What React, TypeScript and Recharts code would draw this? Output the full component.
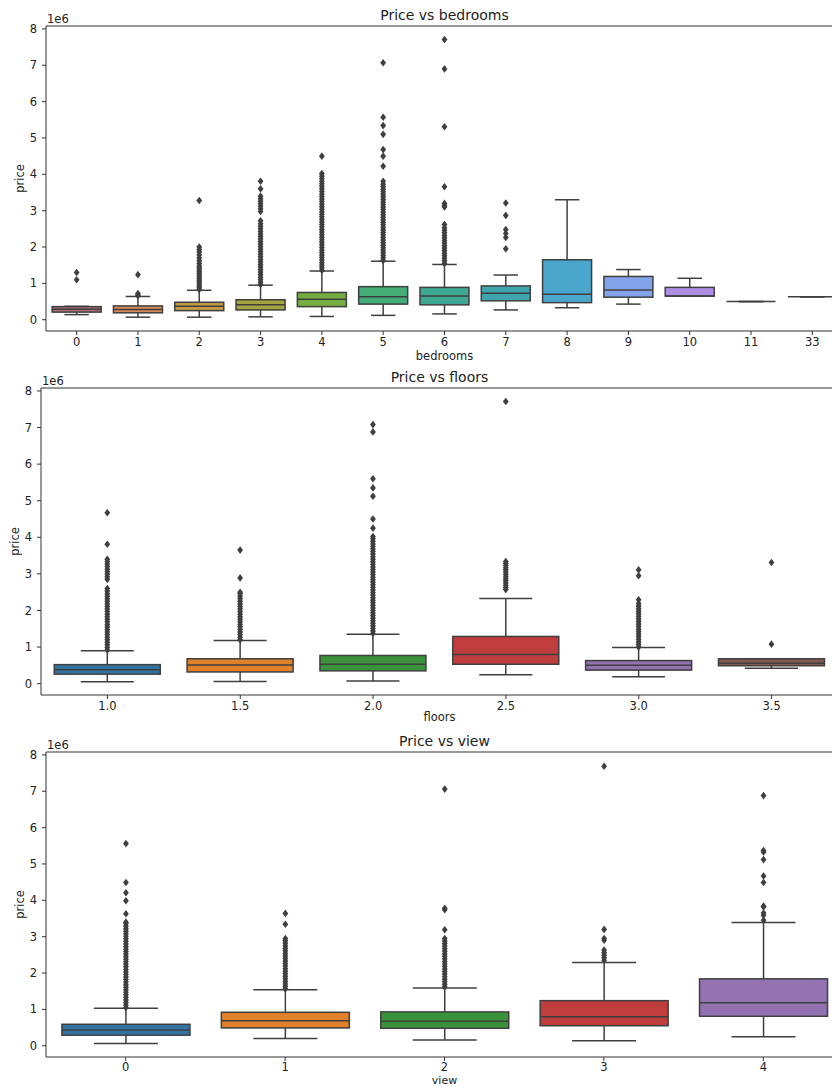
import { ComposedChart, Bar, XAxis, YAxis, ReferenceLine } from 'recharts';

const FONT = '"DejaVu Sans", sans-serif';
const LINE = '#3f3f3f';
const AXIS = '#333333';
const TEXT = '#222222';
const PLOT_W = 797;
const Y_DOMAIN: [number, number] = [-0.31, 8.08];

// price values below are in units of 1e6

// ---- Price vs bedrooms ----
const bedroomCats = ['0', '1', '2', '3', '4', '5', '6', '7', '8', '9', '10', '11', '33'];
const bedroomLow = [0.14, 0.07, 0.07, 0.08, 0.09, 0.12, 0.16, 0.27, 0.33, 0.43, 0.65, 0.5, 0.63];
const bedroomQ1 = [0.21, 0.19, 0.25, 0.27, 0.36, 0.43, 0.41, 0.52, 0.47, 0.62, 0.65, 0.5, 0.63];
const bedroomMed = [0.29, 0.28, 0.37, 0.41, 0.56, 0.63, 0.65, 0.73, 0.7, 0.82, 0.65, 0.5, 0.63];
const bedroomQ3 = [0.36, 0.38, 0.48, 0.55, 0.75, 0.91, 0.89, 0.93, 1.65, 1.19, 0.89, 0.5, 0.63];
const bedroomHigh = [0.37, 0.64, 0.81, 0.95, 1.34, 1.61, 1.52, 1.23, 3.3, 1.38, 1.14, 0.5, 0.63];
const bedroomOutliers: number[][] = [
  [1.1, 1.3],
  [0.66, 0.69, 0.72, 1.24],
  [0.83, 0.88, 0.93, 0.98, 1.03, 1.08, 1.13, 1.18, 1.23, 1.28, 1.33, 1.38, 1.43, 1.48, 1.55, 1.62, 1.7, 1.78,
    1.86, 1.93, 2.0, 3.28],
  [0.97, 1.03, 1.1, 1.17, 1.24, 1.31, 1.38, 1.45, 1.52, 1.59, 1.66, 1.73, 1.8, 1.87, 1.94, 2.01, 2.08, 2.15,
    2.22, 2.29, 2.36, 2.43, 2.5, 2.57, 2.64, 2.72, 2.98, 3.05, 3.12, 3.19, 3.26, 3.33, 3.4, 3.6, 3.81],
  [1.36, 1.43, 1.5, 1.57, 1.64, 1.71, 1.78, 1.85, 1.92, 1.99, 2.06, 2.13, 2.2, 2.27, 2.34, 2.41, 2.48, 2.55,
    2.62, 2.69, 2.76, 2.83, 2.9, 2.97, 3.04, 3.11, 3.18, 3.25, 3.32, 3.39, 3.46, 3.53, 3.6, 3.67, 3.74, 3.81,
    3.88, 3.95, 4.02, 4.5],
  [1.63, 1.7, 1.77, 1.84, 1.91, 1.98, 2.05, 2.12, 2.19, 2.26, 2.33, 2.4, 2.47, 2.54, 2.61, 2.68, 2.75, 2.82,
    2.89, 2.96, 3.03, 3.1, 3.17, 3.24, 3.31, 3.38, 3.45, 3.52, 3.59, 3.66, 3.73, 3.81, 4.22, 4.5, 4.68, 5.1,
    5.34, 5.57, 7.07],
  [1.55, 1.62, 1.69, 1.76, 1.83, 1.9, 1.97, 2.04, 2.11, 2.18, 2.25, 2.32, 2.39, 2.46, 2.53, 2.62, 3.1, 3.15,
    3.2, 3.66, 5.31, 6.9, 7.71],
  [1.95, 2.26, 2.37, 2.48, 2.87, 3.21],
  [], [], [], [], [],
];

// ---- Price vs floors ----
const floorCats = ['1.0', '1.5', '2.0', '2.5', '3.0', '3.5'];
const floorLow = [0.05, 0.06, 0.07, 0.24, 0.19, 0.42];
const floorQ1 = [0.26, 0.32, 0.35, 0.53, 0.37, 0.49];
const floorMed = [0.38, 0.51, 0.53, 0.8, 0.5, 0.56];
const floorQ3 = [0.52, 0.68, 0.77, 1.29, 0.63, 0.68];
const floorHigh = [0.9, 1.18, 1.35, 2.33, 0.99, 0.68];
const floorOutliers: number[][] = [
  [0.92, 0.99, 1.06, 1.13, 1.2, 1.27, 1.34, 1.41, 1.48, 1.55, 1.62, 1.69, 1.76, 1.83, 1.9, 1.97, 2.04, 2.11,
    2.18, 2.25, 2.32, 2.39, 2.46, 2.53, 2.6, 2.85, 2.92, 2.99, 3.06, 3.13, 3.2, 3.27, 3.34, 3.4, 3.81, 4.67],
  [1.2, 1.27, 1.34, 1.41, 1.48, 1.55, 1.62, 1.69, 1.76, 1.83, 1.9, 1.97, 2.04, 2.11, 2.18, 2.25, 2.32, 2.39,
    2.46, 2.5, 2.89, 3.65],
  [1.37, 1.44, 1.51, 1.58, 1.65, 1.72, 1.79, 1.86, 1.93, 2.0, 2.07, 2.14, 2.21, 2.28, 2.35, 2.42, 2.49, 2.56,
    2.63, 2.7, 2.77, 2.84, 2.91, 2.98, 3.05, 3.12, 3.19, 3.26, 3.33, 3.4, 3.47, 3.54, 3.61, 3.68, 3.75, 3.82,
    3.89, 3.96, 4.02, 4.25, 4.5, 5.12, 5.35, 5.6, 6.88, 7.08],
  [2.57, 2.63, 2.69, 2.75, 2.81, 2.87, 2.93, 2.99, 3.05, 3.11, 3.17, 3.23, 3.29, 3.34, 7.71],
  [1.0, 1.07, 1.14, 1.21, 1.28, 1.35, 1.42, 1.49, 1.56, 1.63, 1.7, 1.77, 1.84, 1.91, 1.98, 2.05, 2.12, 2.19,
    2.29, 2.95, 3.11],
  [1.08, 3.31],
];

// ---- Price vs view ----
const viewCats = ['0', '1', '2', '3', '4'];
const viewLow = [0.06, 0.2, 0.16, 0.14, 0.25];
const viewQ1 = [0.29, 0.49, 0.48, 0.55, 0.81];
const viewMed = [0.43, 0.69, 0.67, 0.8, 1.18];
const viewQ3 = [0.59, 0.92, 0.93, 1.24, 1.84];
const viewHigh = [1.03, 1.54, 1.59, 2.29, 3.39];
const viewOutliers: number[][] = [
  [1.05, 1.12, 1.19, 1.26, 1.33, 1.4, 1.47, 1.54, 1.61, 1.68, 1.75, 1.82, 1.89, 1.96, 2.03, 2.1, 2.17, 2.24,
    2.31, 2.38, 2.45, 2.52, 2.59, 2.66, 2.73, 2.8, 2.87, 2.94, 3.01, 3.08, 3.15, 3.22, 3.29, 3.36, 3.4, 3.63,
    3.99, 4.21, 4.49, 5.56],
  [1.56, 1.63, 1.7, 1.77, 1.84, 1.91, 1.98, 2.05, 2.12, 2.19, 2.26, 2.33, 2.4, 2.47, 2.54, 2.61, 2.68, 2.75,
    2.82, 2.89, 2.95, 3.34, 3.64],
  [1.62, 1.69, 1.76, 1.83, 1.9, 1.97, 2.04, 2.11, 2.18, 2.25, 2.32, 2.39, 2.46, 2.53, 2.6, 2.67, 2.74, 2.81,
    2.88, 2.95, 3.19, 3.74, 3.78, 7.06],
  [2.35, 2.42, 2.49, 2.56, 2.63, 2.9, 2.95, 3.2, 7.69],
  [3.45, 3.59, 3.65, 3.82, 3.84, 4.49, 4.67, 5.12, 5.33, 5.37, 6.88],
];

const yTicks = [0, 1, 2, 3, 4, 5, 6, 7, 8];

// seaborn-like desaturated palettes
const huslPalette = ['#b07078', '#d98a58', '#c49c45', '#a3a43e', '#74ad42', '#44ad77', '#3fa893', '#3fa6b0',
  '#4aa6cc', '#84a3ea', '#ae8fe3', '#d880d8', '#e57fae'];
const tabPalette = ['#3274a1', '#e1812c', '#3a923a', '#c03d3e', '#9372b2', '#845b53'];

type BoxRow = {
  cat: string;
  low: number;
  q1: number;
  med: number;
  q3: number;
  high: number;
  outliers: number[];
  top: number;
};

const buildRows = (
  cats: string[], low: number[], q1: number[], med: number[], q3: number[], high: number[], out: number[][],
): BoxRow[] =>
  cats.map((cat, i) => ({
    cat,
    low: low[i],
    q1: q1[i],
    med: med[i],
    q3: q3[i],
    high: high[i],
    outliers: out[i],
    top: Math.max(high[i], ...out[i]),
  }));

const bedroomRows = buildRows(bedroomCats, bedroomLow, bedroomQ1, bedroomMed, bedroomQ3, bedroomHigh, bedroomOutliers);
const floorRows = buildRows(floorCats, floorLow, floorQ1, floorMed, floorQ3, floorHigh, floorOutliers);
const viewRows = buildRows(viewCats, viewLow, viewQ1, viewMed, viewQ3, viewHigh, viewOutliers);

// The bar runs from 0 to `top`, so its geometry gives the y scale for the rest of the box
const makeBoxShape = (cats: string[], palette: string[]) => (props: any) => {
  const { x, y, width, height, payload } = props;
  const p = payload as BoxRow;
  const base = y + height;
  const py = (v: number) => base - (v / p.top) * height;
  const cx = x + width / 2;
  const cap = width / 4;
  const fill = palette[cats.indexOf(p.cat) % palette.length];
  const yq1 = py(p.q1);
  const yq3 = py(p.q3);
  const yLow = py(p.low);
  const yHigh = py(p.high);
  const ymed = py(p.med);
  return (
    <g>
      <line x1={cx} x2={cx} y1={yLow} y2={yq1} stroke={LINE} strokeWidth={1.5} />
      <line x1={cx} x2={cx} y1={yq3} y2={yHigh} stroke={LINE} strokeWidth={1.5} />
      <line x1={cx - cap} x2={cx + cap} y1={yLow} y2={yLow} stroke={LINE} strokeWidth={1.5} />
      <line x1={cx - cap} x2={cx + cap} y1={yHigh} y2={yHigh} stroke={LINE} strokeWidth={1.5} />
      {yq1 - yq3 > 0 && (
        <rect x={x} y={yq3} width={width} height={yq1 - yq3} fill={fill} stroke={LINE} strokeWidth={1.5} />
      )}
      <line x1={x} x2={x + width} y1={ymed} y2={ymed} stroke={LINE} strokeWidth={1.5} />
      {p.outliers.map((v, i) => {
        const oy = py(v);
        return (
          <path
            key={i}
            d={`M${cx},${oy - 3.8}L${cx + 2.9},${oy}L${cx},${oy + 3.8}L${cx - 2.9},${oy}Z`}
            fill={LINE}
          />
        );
      })}
    </g>
  );
};

const tickStyle = { fontSize: 11.5, fill: TEXT, fontFamily: FONT };

type PanelProps = {
  rows: BoxRow[];
  palette: string[];
  title: string;
  xLabel: string;
  top: number;
  height: number;
  plotTop: number;
  axisLeft: number;
  xAxisHeight: number;
  labelOffset: number;
  labelSize?: number;
  xTickMargin?: number;
};

const BoxPanel = ({
  rows, palette, title, xLabel, top, height, plotTop, axisLeft, xAxisHeight, labelOffset,
  labelSize = 11.5, xTickMargin = 3,
}: PanelProps) => {
  const width = axisLeft + PLOT_W + 12;
  const cats = rows.map((r) => r.cat);
  return (
    <div style={{ position: 'absolute', left: 0, top, width, height }}>
      <ComposedChart
        width={width}
        height={height}
        data={rows}
        margin={{ top: plotTop, right: 12, left: 0, bottom: 0 }}
        barCategoryGap="10%"
      >
        <XAxis
          dataKey="cat"
          height={xAxisHeight}
          tick={tickStyle}
          tickSize={4}
          tickMargin={xTickMargin}
          tickLine={{ stroke: AXIS }}
          axisLine={{ stroke: AXIS }}
          interval={0}
          label={{ value: xLabel, position: 'insideBottom', offset: labelOffset, fill: TEXT, fontSize: labelSize, fontFamily: FONT }}
        />
        <YAxis
          type="number"
          width={axisLeft}
          domain={Y_DOMAIN}
          allowDataOverflow
          ticks={yTicks}
          tick={tickStyle}
          tickSize={4}
          tickMargin={5}
          tickLine={{ stroke: AXIS }}
          axisLine={{ stroke: AXIS }}
          label={(lp: any) => {
            const vb = lp.viewBox || {};
            const lx = axisLeft - 26;
            const ly = (vb.y ?? plotTop) + (vb.height ?? 0) / 2;
            return (
              <text
                x={lx}
                y={ly}
                transform={`rotate(-90 ${lx} ${ly})`}
                textAnchor="middle"
                dominantBaseline="central"
                fontSize={11.5}
                fontFamily={FONT}
                fill={TEXT}
              >
                price
              </text>
            );
          }}
        />
        {/* top spine of the axes frame */}
        <ReferenceLine y={Y_DOMAIN[1]} stroke={AXIS} strokeWidth={1} ifOverflow="extendDomain" />
        <Bar dataKey="top" shape={makeBoxShape(cats, palette)} isAnimationActive={false} />
      </ComposedChart>
      <div
        style={{
          position: 'absolute',
          left: axisLeft,
          width: PLOT_W,
          top: plotTop - 19,
          textAlign: 'center',
          fontSize: 14,
          lineHeight: '16px',
          color: TEXT,
          fontFamily: FONT,
        }}
      >
        {title}
      </div>
      <div
        style={{
          position: 'absolute',
          left: axisLeft + 1,
          top: plotTop - 13,
          fontSize: 11.5,
          lineHeight: '13px',
          color: TEXT,
          fontFamily: FONT,
        }}
      >
        1e6
      </div>
    </div>
  );
};

export default function App() {
  return (
    <div
      style={{
        position: 'absolute',
        left: 0,
        top: 0,
        width: 832,
        height: 1087,
        overflow: 'hidden',
        background: '#ffffff',
        fontFamily: FONT,
      }}
    >
      <BoxPanel
        rows={bedroomRows}
        palette={huslPalette}
        title="Price vs bedrooms"
        xLabel="bedrooms"
        top={0}
        height={365}
        plotTop={26}
        axisLeft={46}
        xAxisHeight={34}
        labelOffset={5}
      />
      <BoxPanel
        rows={floorRows}
        palette={tabPalette}
        title="Price vs floors"
        xLabel="floors"
        top={365}
        height={362}
        plotTop={23}
        axisLeft={41}
        xAxisHeight={32}
        labelOffset={6}
      />
      <BoxPanel
        rows={viewRows}
        palette={tabPalette}
        title="Price vs view"
        xLabel="view"
        top={727}
        height={360}
        plotTop={25}
        axisLeft={46}
        xAxisHeight={30}
        labelOffset={2.6}
        labelSize={11}
        xTickMargin={2}
      />
    </div>
  );
}
